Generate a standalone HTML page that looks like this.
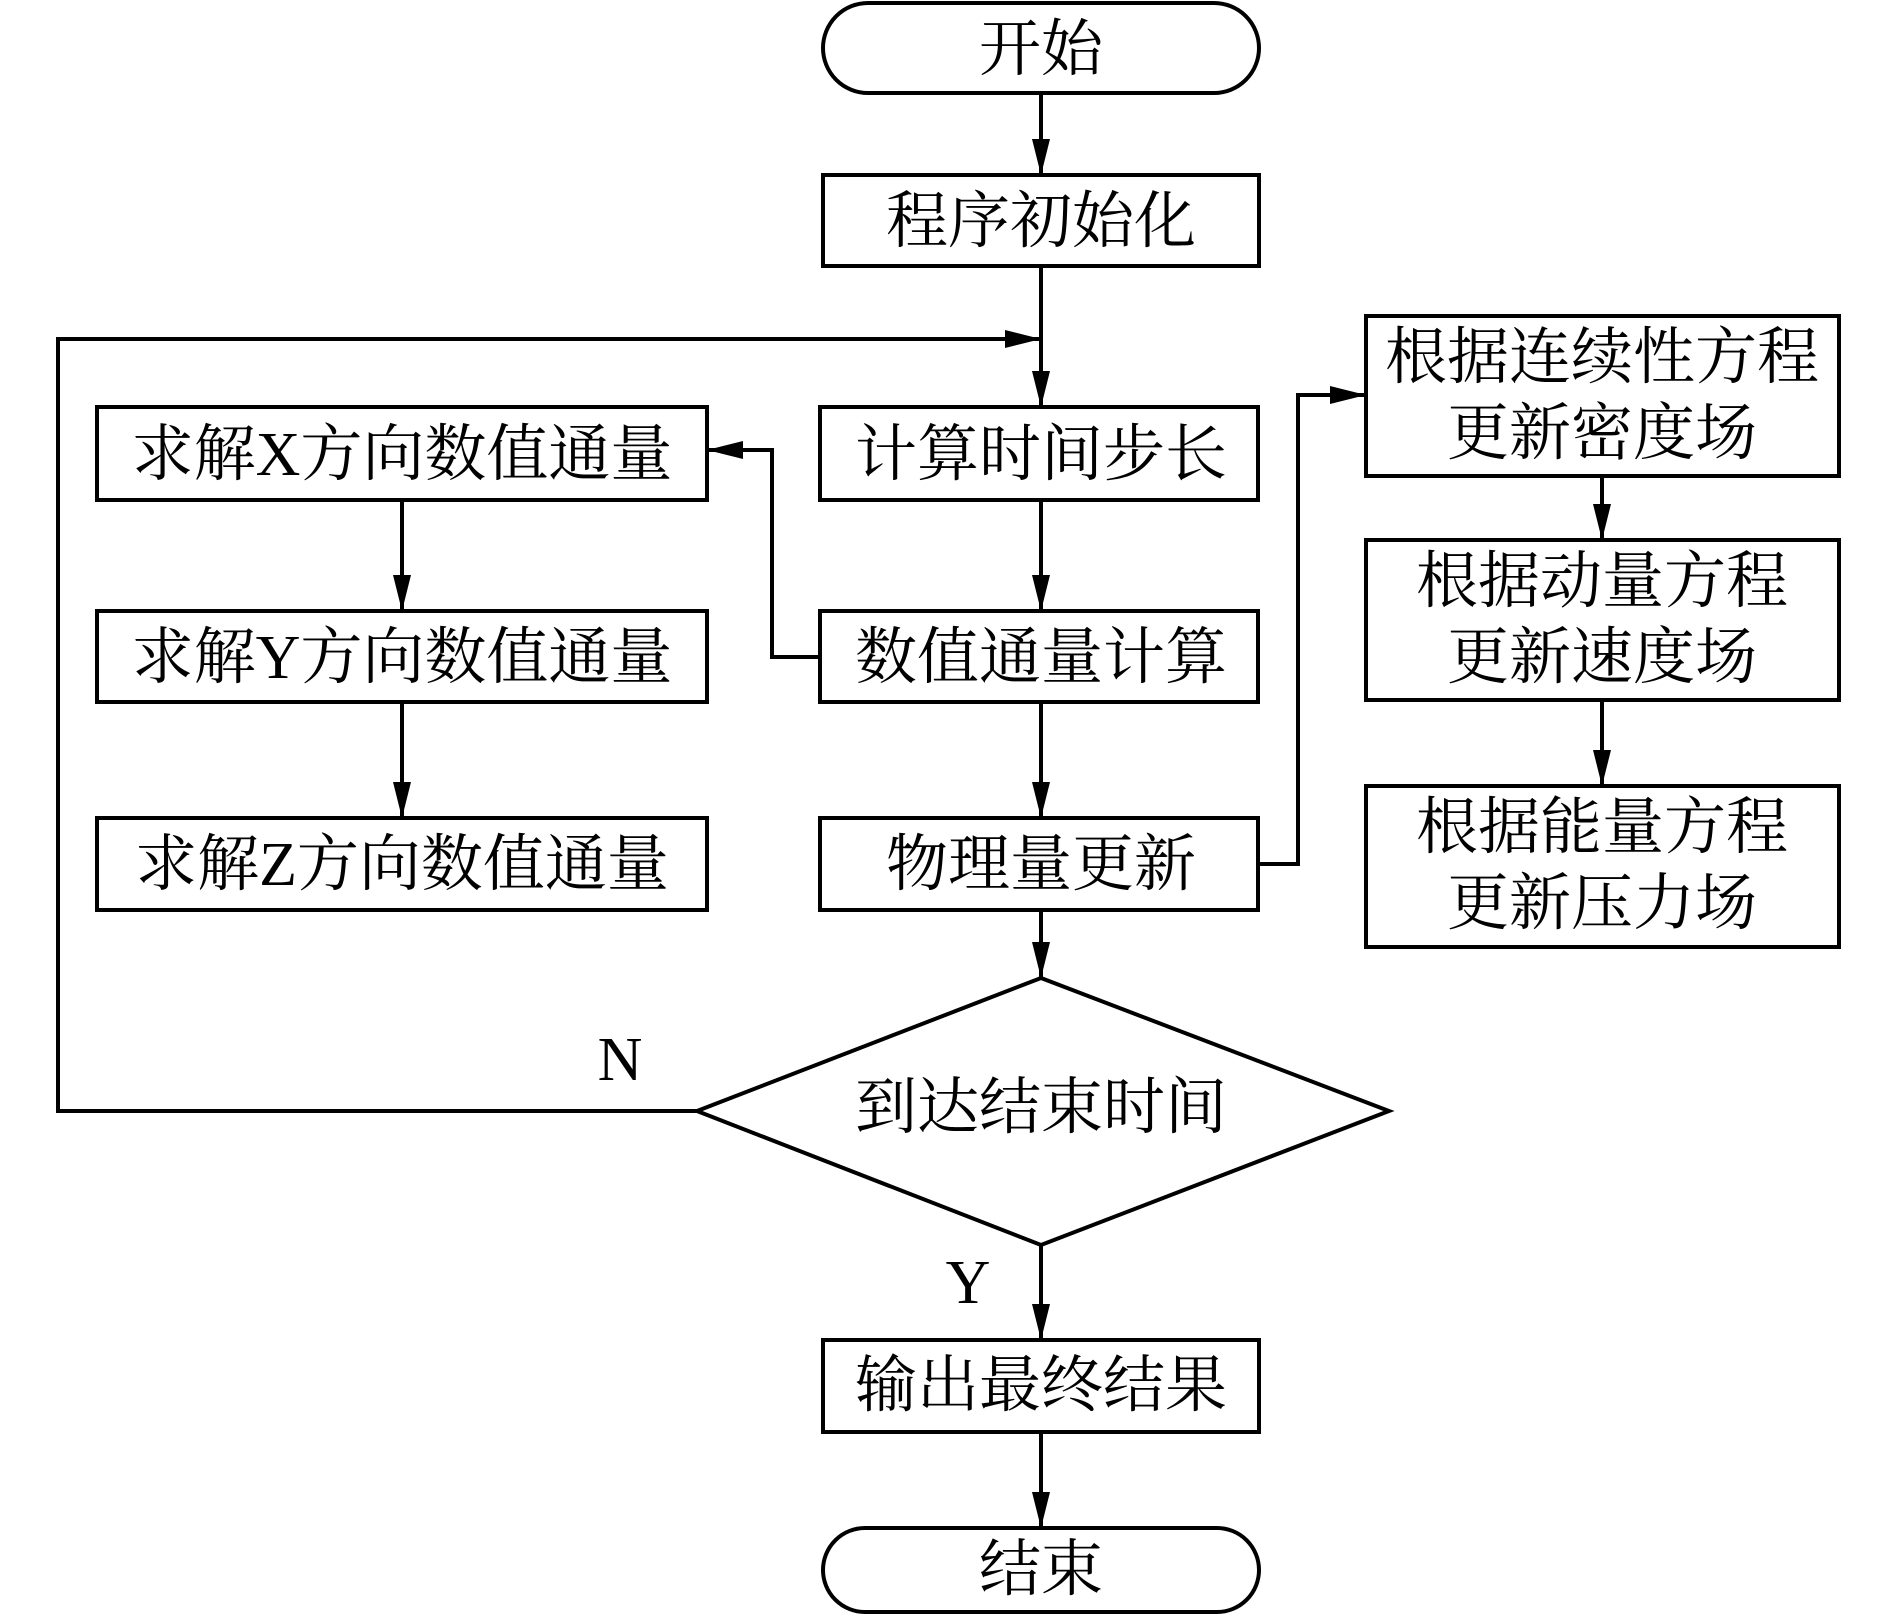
<!DOCTYPE html>
<html><head><meta charset="utf-8"><style>
html,body{margin:0;padding:0;background:#fff;}
svg{display:block;}
text{font-family:"Liberation Serif","Noto Serif CJK SC",serif;font-size:62px;fill:#000;text-anchor:middle;dominant-baseline:central;}
</style></head><body>
<svg width="1889" height="1614" viewBox="0 0 1889 1614" xmlns="http://www.w3.org/2000/svg">
<defs><marker id="a" markerWidth="10" markerHeight="8" refX="10" refY="4" orient="auto" markerUnits="userSpaceOnUse" viewBox="0 0 10 8"><path d="M0,0 L10,4 L0,8z" fill="#000"/></marker>
<marker id="b" viewBox="0 0 36 18" refX="36" refY="9" markerWidth="36" markerHeight="18" orient="auto" markerUnits="userSpaceOnUse"><path d="M0,0 L36,9 L0,18z" fill="#000"/></marker></defs>
<g fill="none" stroke="#000" stroke-width="4">
<rect x="823" y="3" width="436" height="90" rx="45"/>
<rect x="823" y="175" width="436" height="91"/>
<rect x="820" y="407" width="438" height="93"/>
<rect x="820" y="611" width="438" height="91"/>
<rect x="820" y="818" width="438" height="92"/>
<rect x="97" y="407" width="610" height="93"/>
<rect x="97" y="611" width="610" height="91"/>
<rect x="97" y="818" width="610" height="92"/>
<rect x="1366" y="316" width="473" height="160"/>
<rect x="1366" y="540" width="473" height="160"/>
<rect x="1366" y="786" width="473" height="161"/>
<polygon points="1041,978 1389,1111 1041,1245 697,1111"/>
<rect x="823" y="1340" width="436" height="92"/>
<rect x="823" y="1528" width="436" height="84" rx="42"/>
<g marker-end="url(#b)">
<line x1="1041" y1="93" x2="1041" y2="175"/>
<line x1="1041" y1="266" x2="1041" y2="407"/>
<polyline points="697,1111 58,1111 58,339 1041,339"/>
<line x1="1041" y1="500" x2="1041" y2="611"/>
<line x1="1041" y1="702" x2="1041" y2="818"/>
<line x1="1041" y1="910" x2="1041" y2="978"/>
<polyline points="820,657 772,657 772,450 707,450"/>
<line x1="402" y1="500" x2="402" y2="611"/>
<line x1="402" y1="702" x2="402" y2="818"/>
<polyline points="1258,864 1298,864 1298,395 1366,395"/>
<line x1="1602" y1="476" x2="1602" y2="540"/>
<line x1="1602" y1="700" x2="1602" y2="786"/>
<line x1="1041" y1="1245" x2="1041" y2="1340"/>
<line x1="1041" y1="1432" x2="1041" y2="1528"/>
</g>
</g>
<text x="1041" y="50">开始</text>
<text x="1041" y="222">程序初始化</text>
<text x="1041" y="455">计算时间步长</text>
<text x="1041" y="658">数值通量计算</text>
<text x="1041" y="865">物理量更新</text>
<text x="402" y="455">求解X方向数值通量</text>
<text x="402" y="658">求解Y方向数值通量</text>
<text x="402" y="865">求解Z方向数值通量</text>
<text x="1602" y="358">根据连续性方程</text>
<text x="1602" y="434">更新密度场</text>
<text x="1602" y="582">根据动量方程</text>
<text x="1602" y="658">更新速度场</text>
<text x="1602" y="828">根据能量方程</text>
<text x="1602" y="904">更新压力场</text>
<text x="1041" y="1108">到达结束时间</text>
<text x="620" y="1060">N</text>
<text x="968" y="1283">Y</text>
<text x="1041" y="1386">输出最终结果</text>
<text x="1041" y="1570">结束</text>
</svg>
</body></html>
